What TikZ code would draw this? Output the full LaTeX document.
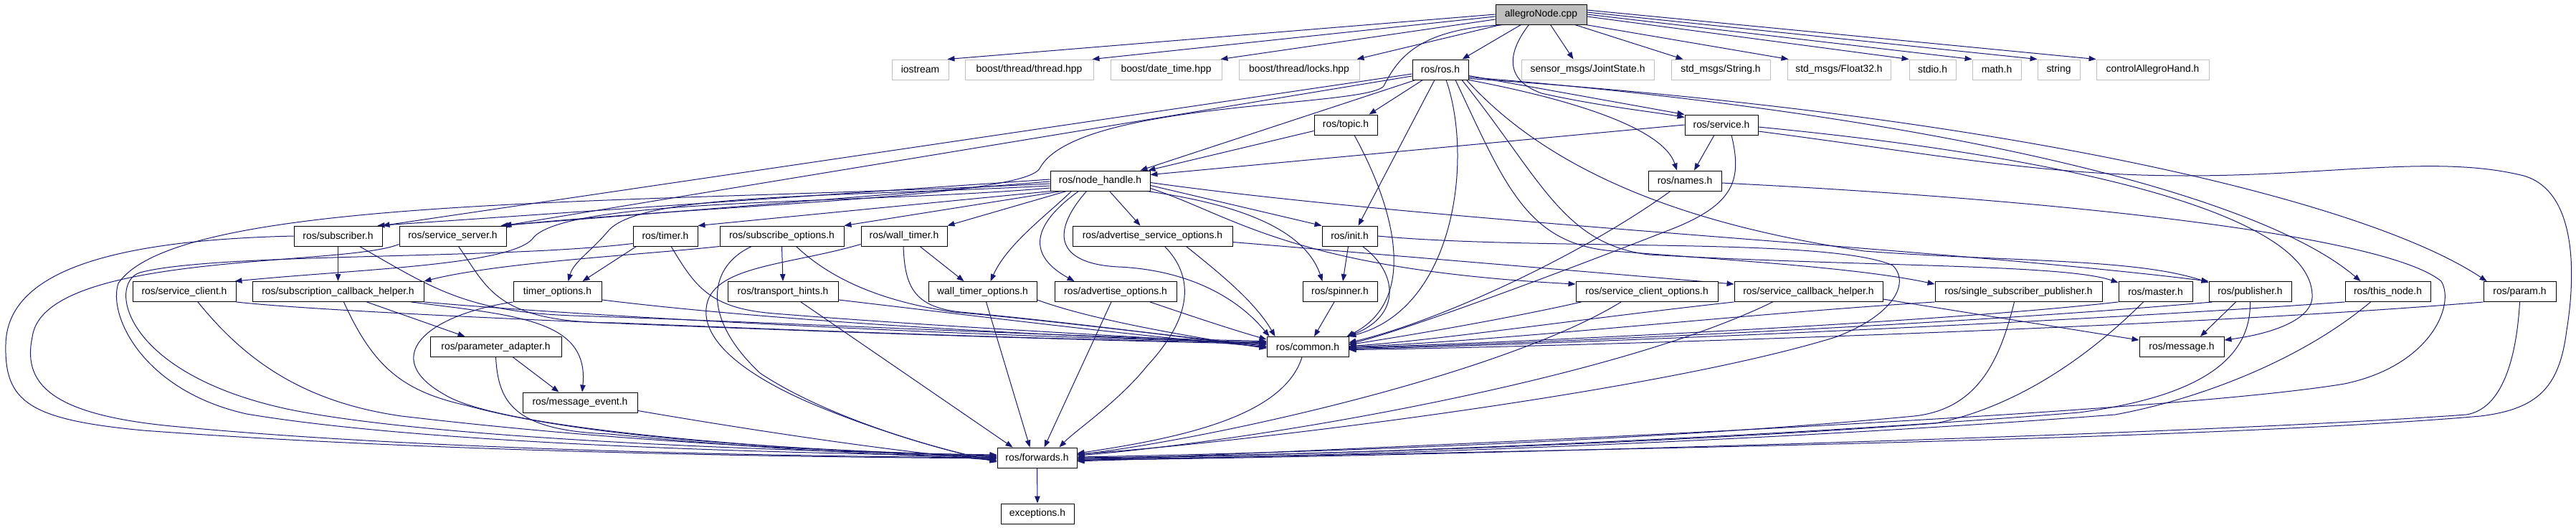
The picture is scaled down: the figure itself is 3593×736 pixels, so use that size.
\documentclass[tikz,border=0pt]{standalone}
\usepackage{fontspec}
\setmainfont{Liberation Sans}
\usetikzlibrary{arrows.meta}
\pgfdeclarelayer{bg}
\pgfsetlayers{bg,main}
\definecolor{mb}{RGB}{25,25,112}
\definecolor{lg}{RGB}{191,191,191}
\tikzset{
 bx/.style={draw=black, line width=0.9pt, fill=white, inner sep=0pt, minimum height=28pt, font=\fontsize{13.9}{16}\selectfont},
 ext/.style={bx, draw=lg},
 root/.style={bx, fill=lg},
 edg/.style={draw=mb, line width=1pt, -{Triangle[length=10pt,width=7.5pt]}},
}
\begin{document}
\begin{tikzpicture}[x=1pt,y=-1pt]
\useasboundingbox (0,0) rectangle (3593,736);
% rank 0
\node[root, minimum width=127pt] (A) at (2149.5,20) {allegroNode.cpp};
% rank 1
\node[ext, minimum width=79pt] (ios) at (1283.5,97) {iostream};
\node[ext, minimum width=179pt] (thr) at (1435.5,97) {boost/thread/thread.hpp};
\node[ext, minimum width=155pt] (dt) at (1626.5,97) {boost/date\_time.hpp};
\node[ext, minimum width=168pt] (lck) at (1812,97) {boost/thread/locks.hpp};
\node[bx, minimum width=78pt] (ros) at (2009,97) {ros/ros.h};
\node[ext, minimum width=185pt] (jst) at (2214.5,97) {sensor\_msgs/JointState.h};
\node[ext, minimum width=138pt] (str) at (2400,97) {std\_msgs/String.h};
\node[ext, minimum width=144pt] (f32) at (2565,97) {std\_msgs/Float32.h};
\node[ext, minimum width=65pt] (stdio) at (2695.5,97) {stdio.h};
\node[ext, minimum width=68pt] (math) at (2785,97) {math.h};
\node[ext, minimum width=59pt] (strg) at (2871.5,97) {string};
\node[ext, minimum width=157pt] (cah) at (3002.5,97) {controlAllegroHand.h};
% rank 2
\node[bx, minimum width=88pt] (topic) at (1877,174) {ros/topic.h};
\node[bx, minimum width=102pt] (srv) at (2401,174) {ros/service.h};
% rank 3
\node[bx, minimum width=139pt] (nh) at (1534.5,252) {ros/node\_handle.h};
\node[bx, minimum width=102pt] (names) at (2350,252) {ros/names.h};
% rank 4
\node[bx, minimum width=123pt] (sub) at (471.5,329) {ros/subscriber.h};
\node[bx, minimum width=149pt] (ssrv) at (631.5,329) {ros/service\_server.h};
\node[bx, minimum width=90pt] (timer) at (928,329) {ros/timer.h};
\node[bx, minimum width=173pt] (subo) at (1090.5,329) {ros/subscribe\_options.h};
\node[bx, minimum width=120pt] (wt) at (1261,329) {ros/wall\_timer.h};
\node[bx, minimum width=223pt] (aso) at (1607.5,329) {ros/advertise\_service\_options.h};
\node[bx, minimum width=77pt] (init) at (1882.5,329) {ros/init.h};
% rank 5
\node[bx, minimum width=144pt] (sc) at (257,406.5) {ros/service\_client.h};
\node[bx, minimum width=239pt] (sch) at (471.5,406.5) {ros/subscription\_callback\_helper.h};
\node[bx, minimum width=123pt] (tmo) at (777.5,406.5) {timer\_options.h};
\node[bx, minimum width=154pt] (th) at (1092,406.5) {ros/transport\_hints.h};
\node[bx, minimum width=151pt] (wto) at (1370.5,406.5) {wall\_timer\_options.h};
\node[bx, minimum width=170pt] (ao) at (1556,406.5) {ros/advertise\_options.h};
\node[bx, minimum width=104pt] (spin) at (1869,406.5) {ros/spinner.h};
\node[bx, minimum width=198pt] (sco) at (2297,406.5) {ros/service\_client\_options.h};
\node[bx, minimum width=207pt] (scbh) at (2522.5,406.5) {ros/service\_callback\_helper.h};
\node[bx, minimum width=233pt] (ssp) at (2815.5,406.5) {ros/single\_subscriber\_publisher.h};
\node[bx, minimum width=103pt] (master) at (3006.5,406.5) {ros/master.h};
\node[bx, minimum width=115pt] (pub) at (3138.5,406.5) {ros/publisher.h};
\node[bx, minimum width=119pt] (tn) at (3330.5,406.5) {ros/this\_node.h};
\node[bx, minimum width=101pt] (param) at (3514.5,406.5) {ros/param.h};
% rank 6-9
\node[bx, minimum width=183pt] (pa) at (691.5,483.5) {ros/parameter\_adapter.h};
\node[bx, minimum width=114pt] (common) at (1824,483.5) {ros/common.h};
\node[bx, minimum width=118pt] (msg) at (3043,483.5) {ros/message.h};
\node[bx, minimum width=160pt] (me) at (809,561) {ros/message\_event.h};
\node[bx, minimum width=111pt] (fwd) at (1446.5,638) {ros/forwards.h};
\node[bx, minimum width=102pt] (exc) at (1447,716) {exceptions.h};

\begin{pgfonlayer}{bg}
% allegroNode.cpp
\draw[edg] (A.west) -- ([xshift=-2pt]ios.north east);
\draw[edg] ([yshift=-3pt]A.west) -- ([xshift=-2pt]thr.north east);
\draw[edg] ([yshift=-7pt]A.west) -- ([xshift=-2pt]dt.north east);
\draw[edg] ([xshift=8pt]A.south west) -- ([xshift=-4pt]lck.north east);
\draw[edg] ([xshift=-28pt]A.south) -- ([xshift=-9pt]ros.north east);
\draw[edg] ([xshift=13pt]A.south) -- ([xshift=-20pt]jst.north);
\draw[edg] ([xshift=-17pt]A.south east) -- ([xshift=17pt]str.north west);
\draw[edg] ([xshift=-2pt]A.south east) -- ([xshift=2pt]f32.north west);
\draw[edg] ([yshift=-3pt]A.east) -- (stdio.north west);
\draw[edg] (A.east) -- (math.north west);
\draw[edg] ([yshift=3pt]A.east) -- (strg.north west);
\draw[edg] ([yshift=6pt]A.east) -- (cah.north west);
\draw[edg] ([xshift=-17pt]A.south) .. controls (2105,70) and (2095,110) .. (2150,130) .. controls (2230,148) and (2300,155) .. ([yshift=-4pt]srv.north west);
\draw[edg] ([xshift=14pt]A.south west) .. controls (1980,40) and (1950,80) .. (1930,120) .. controls (1905,150) and (1500,140) .. (1450,235) .. controls (1425,275) and (1000,285) .. ([xshift=-5pt]ssrv.north east);
% ros/ros.h
\draw[edg] ([xshift=15pt]ros.south west) -- ([xshift=-12pt]topic.north east);
\draw[edg] ([yshift=6pt]ros.south east) -- (srv.north west);
\draw[edg] (ros.south east) .. controls (2200,140) and (2320,180) .. ([xshift=-11pt]names.north);
\draw[edg] ([xshift=5pt]ros.south west) -- ([xshift=-14pt]nh.north east);
\draw[edg] ([yshift=-6pt]ros.west) -- (sub.north east);
\draw[edg] ([yshift=-9pt]ros.west) -- ([xshift=-3pt]ssrv.north east);
\draw[edg] ([xshift=-8pt]ros.south) -- ([xshift=12pt]init.north);
\draw[edg] ([xshift=8pt]ros.south) .. controls (2055,220) and (2030,430) .. (common.north east);
\draw[edg] ([xshift=21pt]ros.south) .. controls (2100,260) and (2130,340) .. (2250,350) .. controls (2450,365) and (2600,375) .. ([yshift=-4pt]ssp.north west);
\draw[edg] ([xshift=30pt]ros.south) .. controls (2150,250) and (2180,340) .. (2300,355) .. controls (2600,372) and (2880,368) .. ([yshift=-2pt]master.north west);
\draw[edg] ([xshift=-3pt]ros.south east) .. controls (2180,260) and (2400,320) .. (2600,350) .. controls (2800,365) and (2980,360) .. ([yshift=-2pt]pub.north west);
\draw[edg] ([yshift=4pt]ros.south east) .. controls (2700,160) and (3150,270) .. ([xshift=22pt]tn.north west);
\draw[edg] ([yshift=2pt]ros.south east) .. controls (2800,160) and (3300,280) .. ([xshift=5pt]param.north west);
% ros/topic.h
\draw[edg] ([yshift=6pt]topic.south west) -- ([xshift=-3pt]nh.north east);
\draw[edg] ([xshift=12pt]topic.south) .. controls (1950,300) and (1975,420) .. ([xshift=-3pt]common.north east);
% ros/service.h
\draw[edg] (srv.west) -- ([yshift=-6pt]nh.north east);
\draw[edg] ([xshift=-10pt]srv.south) -- ([xshift=13pt]names.north);
\draw[edg] ([xshift=14pt]srv.south) .. controls (2430,250) and (2420,285) .. (2330,320) .. controls (2150,390) and (1960,460) .. ([yshift=4pt]common.east);
\draw[edg] ([yshift=-3pt]srv.east) .. controls (2900,220) and (3220,300) .. (3225,410) .. controls (3228,445) and (3170,465) .. ([yshift=-5pt]msg.north east);
\draw[edg] ([yshift=-9pt]srv.east) .. controls (2700,215) and (2850,245) .. (3050,245) .. controls (3250,245) and (3400,215) .. (3520,245) .. controls (3600,268) and (3590,400) .. (3580,460) .. controls (3570,540) and (3540,570) .. (3460,580) .. controls (3000,620) and (1800,632) .. ([yshift=-5pt]fwd.east);
% ros/names.h
\draw[edg] ([xshift=-20pt]names.south) .. controls (2200,360) and (2000,450) .. ([yshift=6pt]common.east);
\draw[edg] ([yshift=-3pt]names.east) .. controls (2900,280) and (3330,330) .. (3405,392) .. controls (3425,425) and (3390,510) .. (3270,535) .. controls (3000,580) and (1900,625) .. ([yshift=-4pt]fwd.east);
% ros/node_handle.h
\draw[edg] ([yshift=2pt]nh.west) -- ([xshift=-7pt]sub.north east);
\draw[edg] ([yshift=-1pt]nh.west) -- ([xshift=-8pt]ssrv.north east);
\draw[edg] ([yshift=-4pt]nh.west) .. controls (900,285) and (250,270) .. (165,395) .. controls (150,440) and (200,545) .. (344,577) .. controls (600,620) and (1100,632) .. ([yshift=2pt]fwd.west);
\draw[edg] ([yshift=-7pt]nh.west) .. controls (1150,275) and (900,270) .. (850,320) .. controls (825,350) and (800,365) .. ([xshift=15pt]tmo.north);
\draw[edg] ([yshift=-10pt]nh.west) .. controls (1200,285) and (800,275) .. (745,330) .. controls (720,370) and (500,375) .. ([xshift=-2pt]sc.north east);
\draw[edg] ([xshift=2pt]nh.south west) -- (timer.north east);
\draw[edg] ([xshift=16pt]nh.south west) -- (subo.north east);
\draw[edg] ([xshift=23pt]nh.south west) -- (wt.north east);
\draw[edg] ([xshift=13pt]nh.south) -- ([xshift=-17pt]aso.north);
\draw[edg] ([xshift=30pt]nh.south west) .. controls (1460,300) and (1405,340) .. ([xshift=11pt]wto.north);
\draw[edg] ([xshift=40pt]nh.south west) .. controls (1430,320) and (1440,360) .. ([xshift=28pt]ao.north west);
\draw[edg] ([xshift=51pt]nh.south west) .. controls (1460,330) and (1480,368) .. (1560,372) .. controls (1650,376) and (1722,410) .. ([xshift=4pt]common.north west);
\draw[edg] ([xshift=-5pt]nh.south east) .. controls (1730,285) and (1820,320) .. ([xshift=28pt]spin.north west);
\draw[edg] ([yshift=8pt]nh.south east) -- (init.north west);
\draw[edg] ([yshift=4pt]nh.south east) .. controls (1720,300) and (1800,375) .. ([yshift=-4pt]sco.north west);
\draw[edg] ([yshift=12pt]nh.south east) .. controls (2000,310) and (2700,345) .. (pub.north west);
% rank 4 sources
\draw[edg] (sub.south) -- (sch.north);
\draw[edg] ([xshift=30pt]sub.south) .. controls (600,400) and (650,435) .. (800,440) .. controls (1100,450) and (1500,470) .. ([yshift=8pt]common.west);
\draw[edg] (sub.west) .. controls (150,335) and (10,380) .. (8,480) .. controls (6,560) and (40,585) .. (200,600) .. controls (600,630) and (1100,637) .. ([yshift=-1pt]fwd.west);
\draw[edg] ([xshift=8pt]ssrv.south) .. controls (680,400) and (690,450) .. (860,450) .. controls (1100,460) and (1500,475) .. ([yshift=6pt]common.west);
\draw[edg] ([yshift=3pt]ssrv.south west) .. controls (480,372) and (60,350) .. (45,470) .. controls (30,540) and (80,580) .. (250,595) .. controls (600,628) and (1100,636) .. (fwd.west);
\draw[edg] ([xshift=5pt]timer.south west) -- ([xshift=35pt]tmo.north);
\draw[edg] ([xshift=8pt]timer.south) .. controls (970,400) and (990,430) .. (1080,437) .. controls (1300,455) and (1600,470) .. ([yshift=3pt]common.west);
\draw[edg] ([yshift=4pt]timer.south west) .. controls (700,362) and (300,352) .. (195,380) .. controls (150,395) and (170,520) .. (400,570) .. controls (600,612) and (1100,630) .. ([yshift=4pt]fwd.west);
\draw[edg] (subo.south) -- (th.north);
\draw[edg] (subo.south west) .. controls (900,355) and (700,365) .. (sch.north east);
\draw[edg] ([xshift=20pt]subo.south) .. controls (1160,390) and (1230,420) .. (1330,435) .. controls (1450,445) and (1650,470) .. ([yshift=1pt]common.west);
\draw[edg] ([xshift=-42pt]subo.south) .. controls (990,370) and (975,440) .. (1060,520) .. controls (1150,580) and (1300,625) .. ([yshift=-5pt]fwd.west);
\draw[edg] ([xshift=22pt]wt.south) -- ([xshift=-26pt]wto.north);
\draw[edg] ([xshift=-1pt]wt.south) .. controls (1262,400) and (1275,428) .. (1340,435) .. controls (1500,450) and (1650,470) .. ([yshift=-1pt]common.west);
\draw[edg] ([yshift=3pt]wt.south west) .. controls (1100,370) and (990,370) .. (985,430) .. controls (980,480) and (1050,530) .. (1150,570) .. controls (1250,610) and (1330,630) .. ([yshift=-6pt]fwd.west);
\draw[edg] ([yshift=6pt]aso.south east) -- ([yshift=-4pt]scbh.north west);
\draw[edg] ([xshift=47pt]aso.south) .. controls (1700,380) and (1750,420) .. ([xshift=12pt]common.north west);
\draw[edg] ([xshift=17pt]aso.south) .. controls (1665,385) and (1665,440) .. (1600,510) .. controls (1560,560) and (1500,600) .. ([xshift=-25pt]fwd.north east);
\draw[edg] ([xshift=-2pt]init.south) -- ([xshift=4pt]spin.north);
\draw[edg] ([xshift=18pt]init.south) .. controls (1950,380) and (1955,440) .. ([xshift=-2pt]common.north east);
\draw[edg] (init.east) .. controls (2150,350) and (2550,330) .. (2640,370) .. controls (2665,395) and (2640,440) .. (2560,470) .. controls (2300,550) and (1700,620) .. ([yshift=5pt]fwd.east);
% rank 5 sources
\draw[edg] (sc.south east) .. controls (500,440) and (1300,470) .. ([yshift=4pt]common.west);
\draw[edg] ([xshift=19pt]sc.south) .. controls (340,500) and (420,560) .. (560,580) .. controls (900,620) and (1200,630) .. ([yshift=3pt]fwd.west);
\draw[edg] ([xshift=40pt]sch.south) -- ([xshift=49pt]pa.north west);
\draw[edg] ([xshift=102pt]sch.south) .. controls (720,440) and (822,445) .. ([xshift=3pt]me.north);
\draw[edg] ([xshift=8pt]sch.south) .. controls (520,510) and (560,545) .. (650,565) .. controls (850,620) and (1200,628) .. ([yshift=1pt]fwd.west);
\draw[edg] (sch.south east) .. controls (800,440) and (1400,472) .. ([yshift=7pt]common.west);
\draw[edg] ([yshift=3pt]tmo.south east) .. controls (1100,450) and (1500,470) .. ([yshift=5pt]common.west);
\draw[edg] (tmo.south west) .. controls (590,440) and (530,500) .. (620,550) .. controls (700,600) and (1100,628) .. (fwd.west);
\draw[edg] ([yshift=3pt]th.south east) .. controls (1400,445) and (1600,470) .. (common.west);
\draw[edg] ([xshift=25pt]th.south) -- ([xshift=22pt]fwd.north west);
\draw[edg] ([yshift=3pt]wto.south east) .. controls (1520,445) and (1650,468) .. ([yshift=-2pt]common.west);
\draw[edg] ([xshift=5pt]wto.south) -- ([xshift=-10pt]fwd.north);
\draw[edg] ([xshift=48pt]ao.south) .. controls (1660,440) and (1720,460) .. ([yshift=-4pt]common.north west);
\draw[edg] ([xshift=-6pt]ao.south) -- ([xshift=10pt]fwd.north);
\draw[edg] ([xshift=-8pt]spin.south) -- ([xshift=9pt]common.north);
\draw[edg] ([xshift=8pt]sco.south west) .. controls (2100,445) and (1950,470) .. ([yshift=3pt]common.east);
\draw[edg] ([xshift=-36pt]sco.south) .. controls (2100,520) and (1700,610) .. ([yshift=4pt]fwd.east);
\draw[edg] (scbh.south west) .. controls (2200,445) and (2000,475) .. ([yshift=1pt]common.east);
\draw[edg] ([xshift=-50pt]scbh.south) .. controls (2250,530) and (1750,615) .. ([yshift=3pt]fwd.east);
\draw[edg] ([yshift=4pt]scbh.south east) -- ([yshift=-5pt]msg.north west);
\draw[edg] (ssp.south west) .. controls (2400,440) and (2100,475) .. (common.east);
\draw[edg] ([xshift=-6pt]ssp.south) .. controls (2790,500) and (2760,570) .. (2670,580) .. controls (2300,615) and (1800,632) .. ([yshift=1pt]fwd.east);
\draw[edg] (master.south west) .. controls (2700,450) and (2100,478) .. ([yshift=-1pt]common.east);
\draw[edg] ([xshift=-17pt]master.south) .. controls (2900,510) and (2800,570) .. (2700,590) .. controls (2300,620) and (1800,635) .. (fwd.east);
\draw[edg] ([xshift=5pt]pub.south west) .. controls (2700,455) and (2100,480) .. ([yshift=-2pt]common.east);
\draw[edg] ([xshift=-20pt]pub.south) -- ([xshift=26pt]msg.north);
\draw[edg] (pub.south) .. controls (3140,510) and (3050,555) .. (2900,575) .. controls (2400,615) and (1800,636) .. ([yshift=-1pt]fwd.east);
\draw[edg] (tn.south west) .. controls (2800,455) and (2100,482) .. ([yshift=-3pt]common.east);
\draw[edg] ([xshift=-24pt]tn.south) .. controls (3200,510) and (3050,560) .. (2950,578) .. controls (2400,620) and (1800,638) .. ([yshift=-2pt]fwd.east);
\draw[edg] (param.south west) .. controls (3000,460) and (2100,485) .. ([yshift=-4pt]common.east);
\draw[edg] (param.south) .. controls (3510,500) and (3490,570) .. (3440,578) .. controls (3000,610) and (1800,640) .. ([yshift=-3pt]fwd.east);
% rank 6+ sources
\draw[edg] ([xshift=24pt]pa.south) -- ([xshift=51pt]me.north west);
\draw[edg] (pa.south) .. controls (695,560) and (715,600) .. (850,605) .. controls (1100,630) and (1300,636) .. ([yshift=-2pt]fwd.west);
\draw[edg] ([yshift=3pt]me.south east) .. controls (1050,600) and (1250,630) .. ([yshift=-4pt]fwd.west);
\draw[edg] ([xshift=-8pt]common.south) .. controls (1790,580) and (1650,610) .. ([yshift=6pt]fwd.east);
\draw[edg] (fwd.south) -- (exc.north);
\end{pgfonlayer}
\end{tikzpicture}
\end{document}
